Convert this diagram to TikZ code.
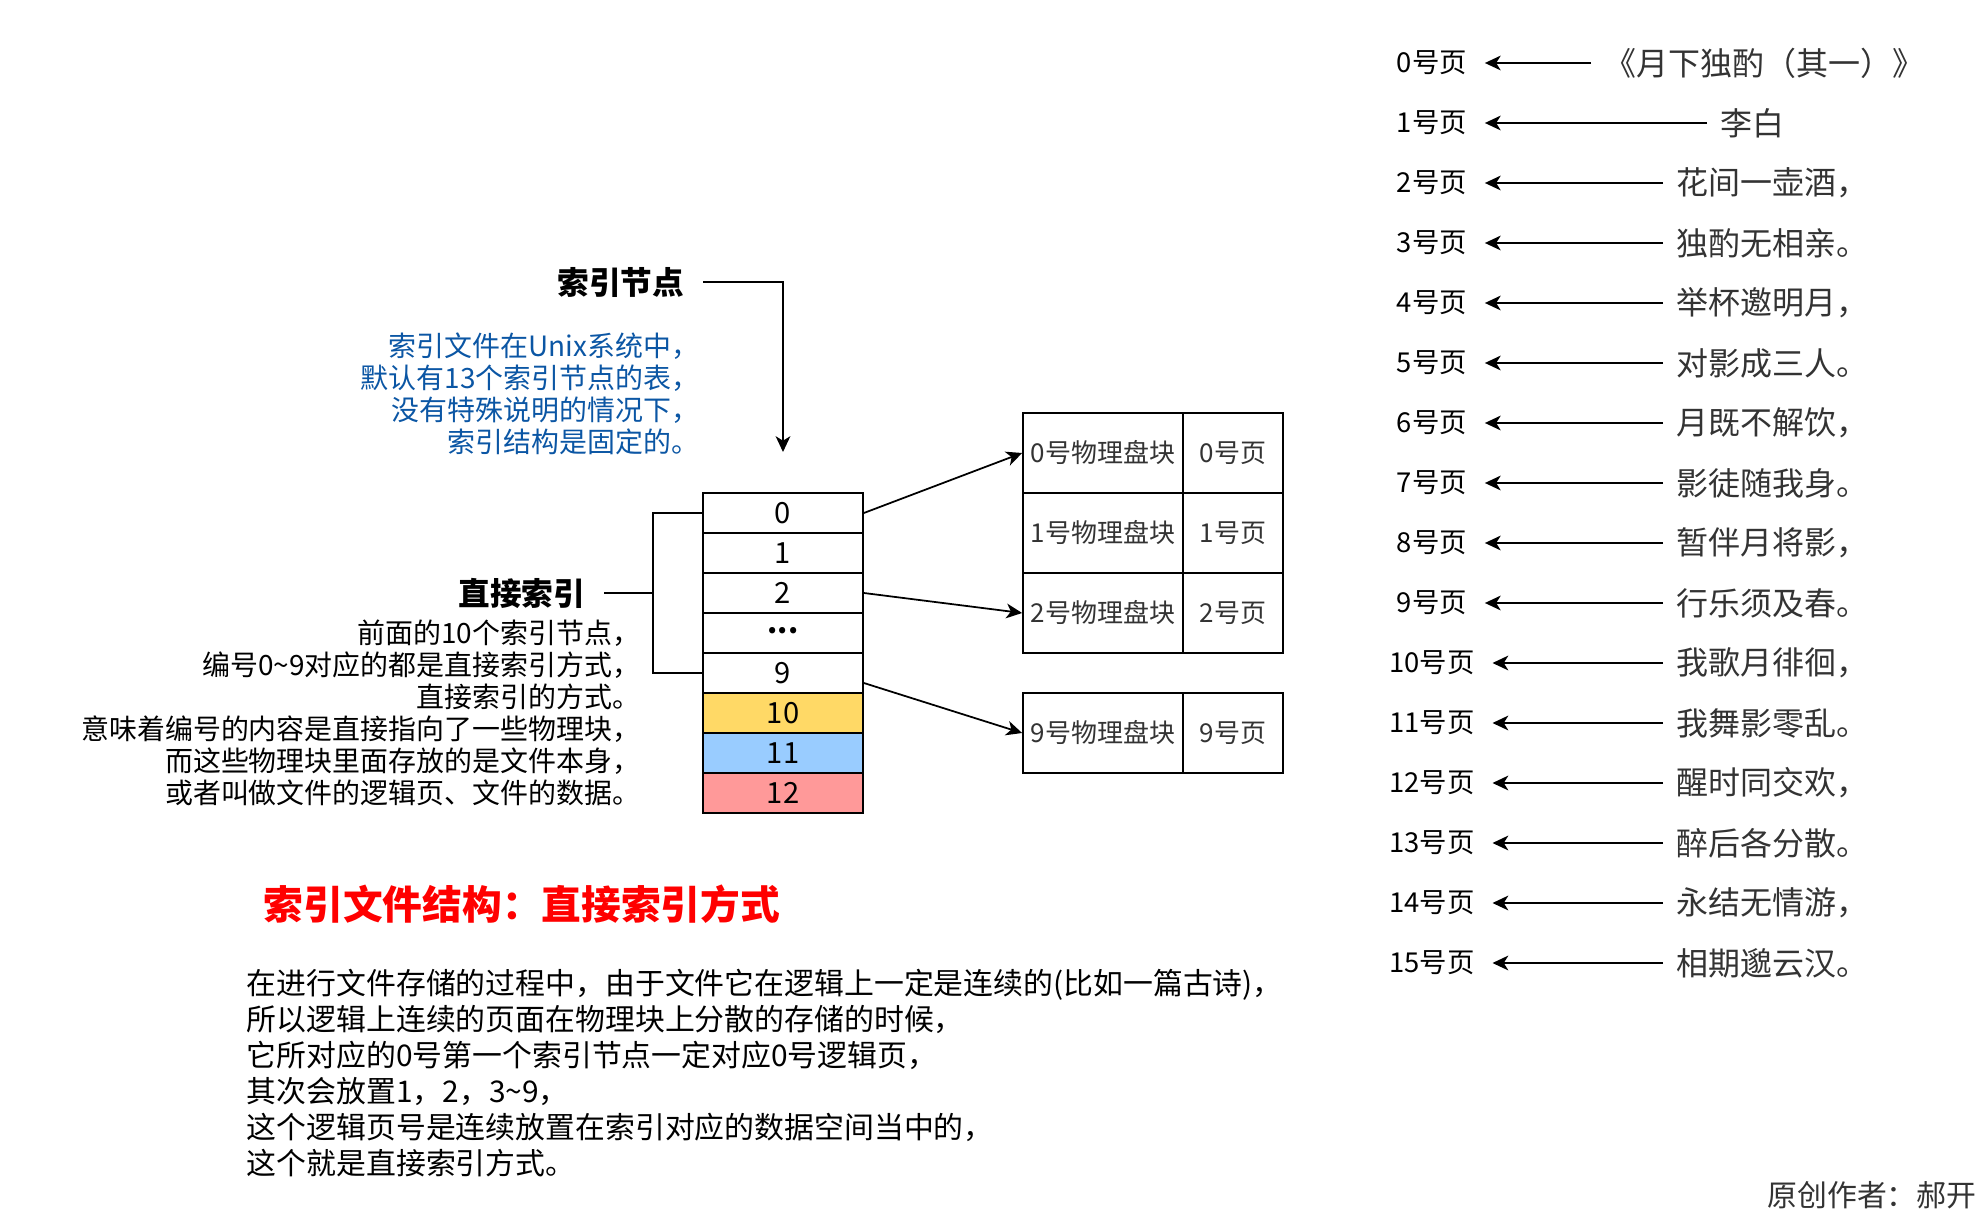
\documentclass[tikz,border=0pt]{standalone}
\usepackage{fontspec}
\setmainfont{Noto Sans CJK SC}
\usetikzlibrary{arrows.meta,calc}
\definecolor{rowyellow}{HTML}{FFD966}
\definecolor{rowblue}{HTML}{99CCFF}
\definecolor{rowred}{HTML}{FF9999}
\definecolor{noteblue}{HTML}{0B56A4}
\definecolor{poemgray}{HTML}{333333}
\definecolor{titlered}{HTML}{FF0000}

\begin{document}
\begin{tikzpicture}[x=0.1mm,y=-0.1mm,line width=0.5pt,
    arr/.style={-{Stealth[length=4.5pt,width=4.2pt,inset=1.3pt]}},
    slot/.style={draw,minimum width=16mm,minimum height=4mm,inner sep=0pt,font=\fontsize{8.3}{10}\selectfont},
    blk/.style={draw,minimum width=16mm,minimum height=8mm,inner sep=0pt,text=poemgray,font=\fontsize{7.4}{9}\selectfont},
    pg/.style={draw,minimum width=10mm,minimum height=8mm,inner sep=0pt,text=poemgray,font=\fontsize{7.4}{9}\selectfont},
    head/.style={anchor=east,inner ysep=0pt,inner xsep=1.8mm,font=\fontsize{9}{11}\selectfont\bfseries},
    note/.style={anchor=east,inner sep=0pt,align=right,font=\fontsize{7.95}{9.1}\selectfont},
    pnum/.style={inner ysep=0pt,inner xsep=1.7mm,font=\fontsize{7.8}{9}\selectfont},
    verse/.style={anchor=west,inner ysep=0pt,inner xsep=1.3mm,text=poemgray,font=\fontsize{9.1}{11}\selectfont}]
\useasboundingbox (0,0) rectangle (1986,1220);

% index node table
\node[slot] (r0) at (783,513) {0};
\node[slot] (r1) at (783,553) {1};
\node[slot] (r2) at (783,593) {2};
\node[slot] (rdots) at (783,633) {\raisebox{0.35ex}{\bfseries ...}};
\node[slot] (r9) at (783,673) {9};
\node[slot,fill=rowyellow] (r10) at (783,713) {10};
\node[slot,fill=rowblue] (r11) at (783,753) {11};
\node[slot,fill=rowred] (r12) at (783,793) {12};

% physical blocks
\node[blk] (b0) at (1103,453) {0号物理盘块};
\node[pg] (p0) at (1233,453) {0号页};
\node[blk] (b1) at (1103,533) {1号物理盘块};
\node[pg] (p1) at (1233,533) {1号页};
\node[blk] (b2) at (1103,613) {2号物理盘块};
\node[pg] (p2) at (1233,613) {2号页};
\node[blk] (b9) at (1103,733) {9号物理盘块};
\node[pg] (p9) at (1233,733) {9号页};

\draw[arr] (r0.east) -- (b0.west);
\draw[arr] (r2.east) -- (b2.west);
\draw[arr] ($(r9.east)+(0,10)$) -- (b9.west);

% index node label
\node[head] (inode) at (703,282) {索引节点};
\coordinate (inodeend) at (783,452);
\draw[arr] (inode.east) -| (inodeend);
\node[note,text=noteblue] (inodenote) at (700,394) {索引文件在Unix系统中，\\默认有13个索引节点的表，\\没有特殊说明的情况下，\\索引结构是固定的。};

% direct index label
\node[head] (direct) at (604,593) {直接索引};
\coordinate (brace) at (653,593);
\draw (r0.west) -| (brace) |- (r9.west);
\draw (direct.east) -- (brace);
\node[note] (directnote) at (641,713) {前面的10个索引节点，\\编号0\textasciitilde9对应的都是直接索引方式，\\直接索引的方式。\\意味着编号的内容是直接指向了一些物理块，\\而这些物理块里面存放的是文件本身，\\或者叫做文件的逻辑页、文件的数据。};

% title and summary
\node[inner sep=0pt,text=titlered,font=\fontsize{11.3}{13}\selectfont\bfseries] (title) at (522,904) {索引文件结构：直接索引方式};
\node[anchor=west,align=left,inner sep=0pt,font=\fontsize{8.5}{10.2}\selectfont] (summary) at (246,1073) {在进行文件存储的过程中，由于文件它在逻辑上一定是连续的(比如一篇古诗)，\\所以逻辑上连续的页面在物理块上分散的存储的时候，\\它所对应的0号第一个索引节点一定对应0号逻辑页，\\其次会放置1，2，3\textasciitilde9，\\这个逻辑页号是连续放置在索引对应的数据空间当中的，\\这个就是直接索引方式。};
\node[inner sep=0pt,text=poemgray,font=\fontsize{8.5}{10}\selectfont] (author) at (1872,1195) {原创作者：郝开};

% logical pages
\node[pnum] (pg0) at (1432,63) {0号页};
\node[pnum] (pg1) at (1432,123) {1号页};
\node[pnum] (pg2) at (1432,183) {2号页};
\node[pnum] (pg3) at (1432,243) {3号页};
\node[pnum] (pg4) at (1432,303) {4号页};
\node[pnum] (pg5) at (1432,363) {5号页};
\node[pnum] (pg6) at (1432,423) {6号页};
\node[pnum] (pg7) at (1432,483) {7号页};
\node[pnum] (pg8) at (1432,543) {8号页};
\node[pnum] (pg9) at (1432,603) {9号页};
\node[pnum] (pg10) at (1432,663) {10号页};
\node[pnum] (pg11) at (1432,723) {11号页};
\node[pnum] (pg12) at (1432,783) {12号页};
\node[pnum] (pg13) at (1432,843) {13号页};
\node[pnum] (pg14) at (1432,903) {14号页};
\node[pnum] (pg15) at (1432,963) {15号页};

\node[verse] (v0) at (1591,63) {《月下独酌（其一）》};
\node[verse] (v1) at (1707,123) {李白};
\node[verse] (v2) at (1663,183) {花间一壶酒，};
\node[verse] (v3) at (1663,243) {独酌无相亲。};
\node[verse] (v4) at (1663,303) {举杯邀明月，};
\node[verse] (v5) at (1663,363) {对影成三人。};
\node[verse] (v6) at (1663,423) {月既不解饮，};
\node[verse] (v7) at (1663,483) {影徒随我身。};
\node[verse] (v8) at (1663,543) {暂伴月将影，};
\node[verse] (v9) at (1663,603) {行乐须及春。};
\node[verse] (v10) at (1663,663) {我歌月徘徊，};
\node[verse] (v11) at (1663,723) {我舞影零乱。};
\node[verse] (v12) at (1663,783) {醒时同交欢，};
\node[verse] (v13) at (1663,843) {醉后各分散。};
\node[verse] (v14) at (1663,903) {永结无情游，};
\node[verse] (v15) at (1663,963) {相期邈云汉。};

\draw[arr] (v0.west) -- (pg0.east);
\draw[arr] (v1.west) -- (pg1.east);
\draw[arr] (v2.west) -- (pg2.east);
\draw[arr] (v3.west) -- (pg3.east);
\draw[arr] (v4.west) -- (pg4.east);
\draw[arr] (v5.west) -- (pg5.east);
\draw[arr] (v6.west) -- (pg6.east);
\draw[arr] (v7.west) -- (pg7.east);
\draw[arr] (v8.west) -- (pg8.east);
\draw[arr] (v9.west) -- (pg9.east);
\draw[arr] (v10.west) -- (pg10.east);
\draw[arr] (v11.west) -- (pg11.east);
\draw[arr] (v12.west) -- (pg12.east);
\draw[arr] (v13.west) -- (pg13.east);
\draw[arr] (v14.west) -- (pg14.east);
\draw[arr] (v15.west) -- (pg15.east);
\end{tikzpicture}
\end{document}
